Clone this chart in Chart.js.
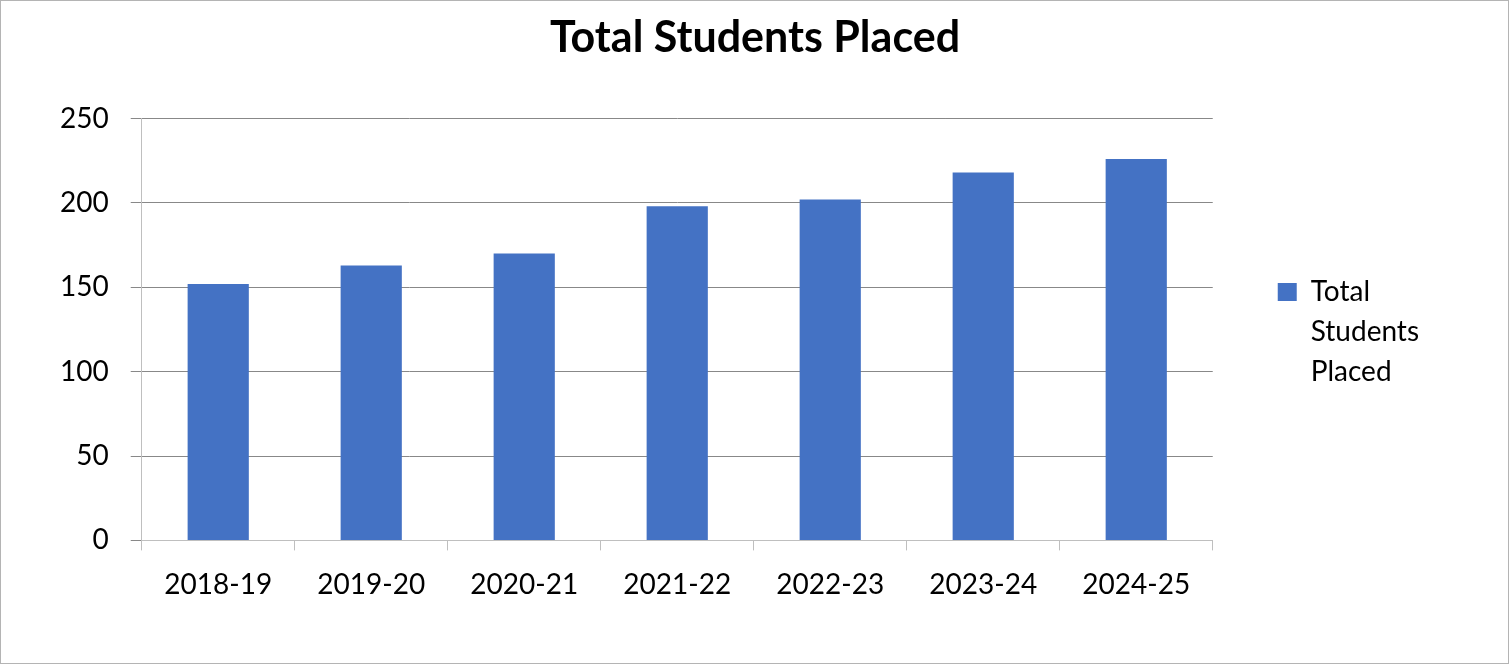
<!DOCTYPE html>
<html>
<head>
<meta charset="utf-8">
<script src="https://cdn.jsdelivr.net/npm/chart.js@4/dist/chart.umd.min.js"></script>
<style>
  html, body { margin: 0; padding: 0; background: #ffffff; }
  #wrap { width: 1510px; height: 666px; position: relative; }
</style>
</head>
<body>
<div id="wrap"><canvas id="c" width="1510" height="666"></canvas></div>
<script>
const chartTitle = 'Total Students Placed';
const categories = ['2018-19', '2019-20', '2020-21', '2021-22', '2022-23', '2023-24', '2024-25'];
const seriesLabel = 'Total Students Placed';
const seriesValues = [152, 163, 170, 198, 202, 218, 226];
const yTicks = [0, 50, 100, 150, 200, 250];

const FONT = 'Lato, "Open Sans", sans-serif';

const frame = {
  id: 'frame',
  afterLayout(chart) {
    // centre the title across the whole canvas, as in the reference
    const t = chart.titleBlock;
    if (t) {
      t.left = 0;
      t.right = chart.width;
      t.width = chart.width;
    }
  },
  beforeDraw(chart) {
    const ctx = chart.ctx;
    ctx.save();
    ctx.fillStyle = '#ffffff';
    ctx.fillRect(0, 0, chart.width, chart.height);
    ctx.restore();
  },
  afterDraw(chart) {
    const ctx = chart.ctx;
    ctx.save();
    ctx.strokeStyle = '#b4b4b4';
    ctx.lineWidth = 1;
    ctx.strokeRect(0.5, 0.5, chart.width - 2, chart.height - 3);
    ctx.restore();
  }
};

new Chart(document.getElementById('c'), {
  type: 'bar',
  data: {
    labels: categories,
    datasets: [{
      label: seriesLabel,
      data: seriesValues,
      backgroundColor: '#4472C4',
      borderWidth: 0,
      barPercentage: 0.4,
      categoryPercentage: 1.0
    }]
  },
  options: {
    responsive: false,
    animation: false,
    devicePixelRatio: 1,
    layout: { padding: { left: 38, right: 81, top: 0, bottom: 46 } },
    plugins: {
      title: {
        display: true,
        text: chartTitle,
        color: '#000000',
        font: { family: FONT, size: 43, weight: 'bold', lineHeight: 1.2 },
        padding: { top: 12, bottom: 55 }
      },
      legend: {
        display: true,
        position: 'right',
        fullSize: false,
        title: {
          display: true,
          text: ' ',
          color: '#000000',
          font: { family: FONT, size: 1, lineHeight: 1 },
          padding: 8
        },
        labels: {
          color: '#000000',
          font: { family: FONT, size: 28, lineHeight: 1.43 },
          boxWidth: 19,
          boxHeight: 18,
          padding: 65,
          generateLabels(chart) {
            return chart.data.datasets.map((ds, i) => ({
              text: ds.label.split(' '),
              fillStyle: ds.backgroundColor,
              strokeStyle: ds.backgroundColor,
              fontColor: '#000000',
              lineWidth: 0,
              hidden: false,
              datasetIndex: i
            }));
          }
        }
      },
      tooltip: { enabled: false }
    },
    scales: {
      x: {
        offset: true,
        grid: {
          offset: true,
          drawOnChartArea: false,
          drawTicks: true,
          tickLength: 10,
          color: '#bfbfbf'
        },
        border: { display: true, color: '#bfbfbf', width: 1 },
        ticks: {
          color: '#000000',
          font: { family: FONT, size: 28 },
          padding: 18,
          maxRotation: 0,
          autoSkip: false
        }
      },
      y: {
        min: 0,
        max: 250,
        afterBuildTicks(scale) {
          scale.ticks = yTicks.map(v => ({ value: v }));
        },
        grid: {
          color: '#888888',
          drawTicks: true,
          tickLength: 11
        },
        border: { display: true, color: '#bfbfbf', width: 1 },
        ticks: {
          color: '#000000',
          font: { family: FONT, size: 28 },
          padding: 22
        }
      }
    }
  },
  plugins: [frame]
});
</script>
</body>
</html>
